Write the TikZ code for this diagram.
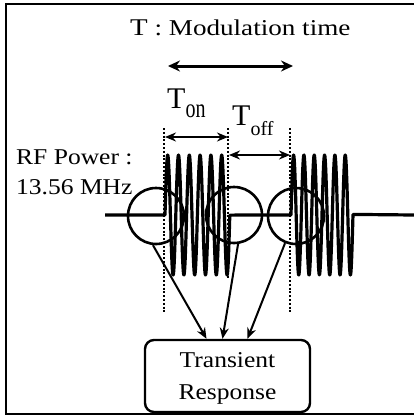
\documentclass[tikz,border=0pt]{standalone}
\usepackage{fontspec}
\setmainfont{Liberation Serif}
\usepackage{graphicx}
\usetikzlibrary{arrows.meta, calc, positioning}
\newcommand{\wtext}[1]{\scalebox{1.13}[1]{#1}}

\begin{document}
\begin{tikzpicture}[x=1pt, y=-1pt, >={Stealth[length=11pt,width=9pt]},
    ring/.style={draw, circle, line width=2.6pt, minimum size=56pt, inner sep=0pt},
    gate/.style={line width=2.6pt, dash pattern=on 2pt off 1.8pt},
    span/.style={<->, line width=2.6pt},
    feed/.style={->, line width=2pt}]
    \useasboundingbox (0,0) rectangle (414,416);
    % Frame
    \draw[line width=2.4pt] (414,4) -- (6,4) -- (6,414) -- (414,414);

    % Modulation period
    \node[anchor=base west, inner sep=0pt] (title) at (130,35)
        {\scalebox{1.2}[1]{\fontsize{24}{24}\selectfont T\fontsize{22.6}{24}\selectfont\ : Modulation time}};
    \draw[span, line width=3pt, {Stealth[length=12pt,width=11pt]}-{Stealth[length=12pt,width=11pt]}] (168,66) -- (293,66);

    % On / off times
    \node[anchor=base west, inner sep=0pt] (ton) at (167,108)
        {\fontsize{30}{30}\selectfont T\raisebox{-9pt}{\fontsize{20}{20}\selectfont\scalebox{1}[1.35]{on}}};
    \node[anchor=base west, inner sep=0pt] (toff) at (232,125)
        {\fontsize{30}{30}\selectfont T\raisebox{-10pt}{\fontsize{20}{20}\selectfont off}};
    \draw[span] (165,137) -- (228,137);
    \draw[span] (229,155) -- (290,155);

    % Source label
    \node[anchor=north west, align=left, inner sep=0pt, font=\fontsize{22.6}{30}\selectfont] (rf) at (16,149)
        {\wtext{RF Power :}\\\wtext{13.56 MHz}};

    % Switching regions
    \node[ring] (c1) at (156,216) {};
    \node[ring] (c2) at (234,215) {};
    \node[ring] (c3) at (296,216) {};

    % Pulsed RF waveform
    \draw[line width=3.2pt, line join=round] (105,215) -- (165,215)
        -- plot[domain=0:64.8, samples=240] ({165+\x}, {215-60*sin(\x/10.8*360)})
        -- (291,215)
        -- plot[domain=0:62, samples=240] ({291+\x}, {215-60*sin(\x/10.33*360)})
        -- (414,215);

    % Gate edges
    \draw[gate] (164,128) -- (164,312);
    \draw[gate] (228,128) -- (228,278);
    \draw[gate] (290,128) -- (290,312);

    % Response box
    \node[draw, rounded corners=9pt, line width=2.4pt, minimum width=165pt, minimum height=72pt,
          align=center, text depth=0pt, font=\fontsize{22.6}{32}\selectfont] (resp) at (227.5,376)
        {\wtext{Transient}\\\wtext{Response}};

    \draw[feed] (c1.-96) -- ($(resp.north)+(-21,0)$);
    \draw[feed] (c2.-82) -- ($(resp.north)+(-5,0)$);
    \draw[feed] (c3.-112) -- ($(resp.north)+(20,0)$);
\end{tikzpicture}
\end{document}
